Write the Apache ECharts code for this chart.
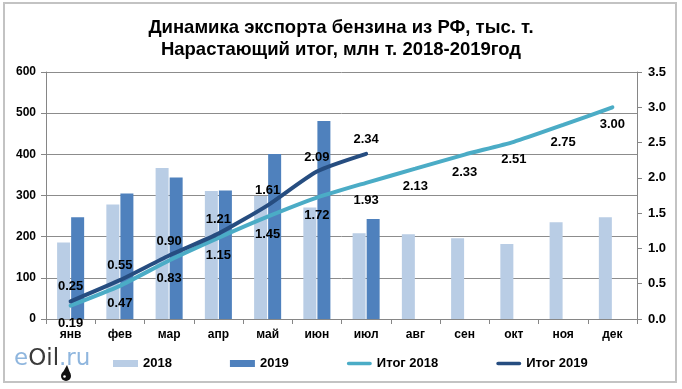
<!DOCTYPE html>
<html>
<head>
<meta charset="utf-8">
<script src="https://cdn.jsdelivr.net/npm/echarts@6/dist/echarts.min.js"></script>
<style>html,body{margin:0;padding:0;background:#fff;}#c{width:682px;height:389px;}</style>
</head>
<body>
<div id="c"></div>
<script>
const months = ['янв','фев','мар','апр','май','июн','июл','авг','сен','окт','ноя','дек'];
const exp2018 = [186,278,367,311,299,271,208,206,196,182,235,247];
const exp2019 = [247,305,344,312,401,481,243];
const cum2018 = [0.19,0.47,0.83,1.15,1.45,1.72,1.93,2.13,2.33,2.51,2.75,3.00];
const cum2019 = [0.25,0.55,0.90,1.21,1.61,2.09,2.34];
const seriesNames = ['2018','2019','Итог 2018','Итог 2019'];
const titleLines = ['Динамика экспорта бензина из РФ, тыс. т.','Нарастающий итог, млн т. 2018-2019год'];

const FONT = '"Liberation Sans", Arial, sans-serif';
const chart = echarts.init(document.getElementById('c'), null, {renderer:'canvas'});
const linePath = 'path://M2,0 L26,0 A2,2 0 0 1 26,4 L2,4 A2,2 0 0 1 2,0 Z';
const option = {
  animation: false,
  backgroundColor: '#fff',
  title: {
    text: titleLines.join('\n'),
    left: 'center', top: 12,
    textStyle: {fontFamily: FONT, fontSize: 18.5, fontWeight: 'bold', color: '#000', lineHeight: 22}
  },
  grid: {left: 46, right: 45, top: 72, bottom: 70},
  legend: {
    left: 113, top: 357, padding: 0, itemGap: 58, itemWidth: 25, itemHeight: 7,
    textStyle: {fontFamily: FONT, fontSize: 13, fontWeight: 'bold', color: '#000'},
    data: [
      {name: seriesNames[0], icon: 'rect'},
      {name: seriesNames[1], icon: 'rect'},
      {name: seriesNames[2], icon: linePath},
      {name: seriesNames[3], icon: linePath}
    ]
  },
  xAxis: {
    type: 'category', data: months, boundaryGap: true,
    axisLine: {lineStyle: {color: '#868686', width: 1}},
    axisTick: {show: true, length: 5, lineStyle: {color: '#868686'}},
    axisLabel: {fontFamily: FONT, fontSize: 12, fontWeight: 'bold', color: '#000', margin: 10}
  },
  yAxis: [
    {
      type: 'value', min: 0, max: 600, interval: 100, position: 'left',
      axisLine: {show: true, lineStyle: {color: '#868686'}},
      axisTick: {show: true, length: 5, lineStyle: {color: '#868686'}},
      splitLine: {show: true, lineStyle: {color: '#8c8c8c', width: 1}},
      axisLabel: {fontFamily: FONT, fontSize: 12, fontWeight: 'bold', color: '#000', margin: 10}
    },
    {
      type: 'value', min: 0, max: 3.5, interval: 0.5, position: 'right',
      axisLine: {show: true, lineStyle: {color: '#868686'}},
      axisTick: {show: true, length: 5, lineStyle: {color: '#868686'}},
      splitLine: {show: false},
      axisLabel: {fontFamily: FONT, fontSize: 13, fontWeight: 'bold', color: '#000', margin: 11,
        formatter: v => v.toFixed(1)}
    }
  ],
  series: [
    {name: seriesNames[0], type: 'bar', data: exp2018, barWidth: 13, barGap: '8%',
      itemStyle: {color: '#b9cde5'}, z: 1},
    {name: seriesNames[1], type: 'bar', data: exp2019, barWidth: 13,
      itemStyle: {color: '#4f81bd'}, z: 1},
    {name: seriesNames[2], type: 'line', yAxisIndex: 1, data: cum2018, smooth: 0.2,
      symbol: 'circle', symbolSize: 2, showSymbol: true,
      lineStyle: {color: '#4bacc6', width: 4, cap: 'round'}, itemStyle: {color: '#4bacc6'},
      label: {show: true, position: 'bottom', distance: 10, fontFamily: FONT, fontSize: 13, fontWeight: 'bold', color: '#000',
        formatter: p => p.value.toFixed(2)}, z: 3},
    {name: seriesNames[3], type: 'line', yAxisIndex: 1, data: cum2019, smooth: 0.2,
      symbol: 'circle', symbolSize: 2, showSymbol: true,
      lineStyle: {color: '#264d80', width: 4, cap: 'round'}, itemStyle: {color: '#264d80'},
      label: {show: true, position: 'top', distance: 7, fontFamily: FONT, fontSize: 13, fontWeight: 'bold', color: '#000',
        formatter: p => p.value.toFixed(2)}, z: 4}
  ],
  graphic: [
    {type: 'rect', x: 4, y: 3, shape: {x: 0, y: 0, width: 672, height: 379}, silent: true,
      style: {fill: 'none', stroke: '#c3c3c3', lineWidth: 2}, z: -1},
    {type: 'text', x: 14, y: 348, silent: true,
      style: {
        text: '{a|e}{b|Oil}{a|.ru}',
        rich: {
          a: {fontFamily: '"DejaVu Sans", sans-serif', fontSize: 23, fill: '#8fb6de'},
          b: {fontFamily: '"DejaVu Sans", sans-serif', fontSize: 23, fill: '#3a3a3a'}
        }
      }},
    {type: 'circle', silent: true, shape: {cx: 66, cy: 376, r: 5}, style: {fill: '#111'}},
    {type: 'polygon', silent: true, shape: {points: [[67, 365], [62, 374], [70.5, 374]]}, style: {fill: '#111'}},
    {type: 'circle', silent: true, shape: {cx: 64.5, cy: 376.5, r: 1.3}, style: {fill: '#fff'}}
  ]
};
chart.setOption(option);
</script>
</body>
</html>
